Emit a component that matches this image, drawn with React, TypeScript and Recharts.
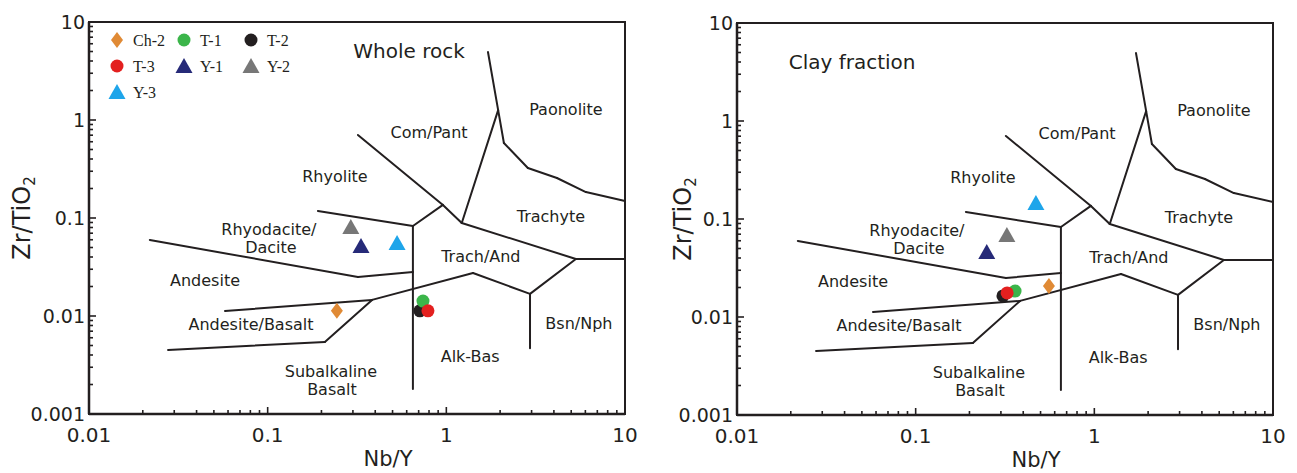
import React from 'react';
import {
  ScatterChart,
  Scatter,
  XAxis,
  YAxis,
  ReferenceLine,
  ReferenceDot,
  ReferenceArea,
  Legend,
} from 'recharts';

const SANS = '"DejaVu Sans", Arial, sans-serif';
const SERIF = '"Liberation Serif", "Times New Roman", serif';
const INK = '#231f20';

// ---- sample series ----
const sampleNames = ['Ch-2', 'T-1', 'T-2', 'T-3', 'Y-1', 'Y-2', 'Y-3'];
const sampleColors = ['#e08a35', '#3bb54a', '#231f20', '#e3201f', '#262a78', '#777777', '#1ea5ea'];
const sampleShapes = ['diamond', 'circle', 'circle', 'circle', 'triangle', 'triangle', 'triangle'];
const drawOrder = [0, 2, 1, 3, 4, 5, 6];

const wholeRockNbY = [0.244, 0.74, 0.711, 0.789, 0.333, 0.292, 0.53];
const wholeRockZrTi = [0.0113, 0.0142, 0.0113, 0.0113, 0.0518, 0.081, 0.0556];

const clayNbY = [0.557, 0.36, 0.308, 0.325, 0.25, 0.324, 0.471];
const clayZrTi = [0.0207, 0.0184, 0.0164, 0.0176, 0.046, 0.0687, 0.1456];

// ---- field boundaries (Nb/Y, Zr/TiO2) ----
const bComPantRhyolite = [[0.32, 0.703], [0.957, 0.136], [1.22, 0.0889]];
const bRhyoliteTrachAnd = [[0.957, 0.136], [0.65, 0.0828]];
const bRhyoliteRhyodacite = [[0.191, 0.118], [0.65, 0.0828]];
const bSubalkAlk = [[0.65, 0.0828], [0.65, 0.0018]];
const bTrachyteTrachAnd = [[1.22, 0.0889], [5.31, 0.0382], [10, 0.0382]];
const bComPantPaonolite = [[1.22, 0.0889], [1.95, 1.26], [1.71, 4.94]];
const bPaonoliteTrachyte = [[1.95, 1.26], [2.1, 0.582], [2.86, 0.324], [4.16, 0.256], [6.04, 0.184], [10, 0.149]];
const bDaciteAndesite = [[0.0219, 0.0597], [0.32, 0.025], [0.65, 0.0281]];
const bAndesiteBasalt = [[0.0577, 0.01125], [0.384, 0.0146], [1.41, 0.0275], [2.94, 0.0168], [5.31, 0.0382]];
const bAlkBsnNph = [[2.94, 0.0168], [2.94, 0.0047]];
const bSubalkBasalt = [[0.0277, 0.0045], [0.209, 0.00543], [0.384, 0.0146]];
const boundaries = [
  bComPantRhyolite, bRhyoliteTrachAnd, bRhyoliteRhyodacite, bSubalkAlk, bTrachyteTrachAnd,
  bComPantPaonolite, bPaonoliteTrachyte, bDaciteAndesite, bAndesiteBasalt, bAlkBsnNph, bSubalkBasalt,
];

// ---- field labels ----
const fieldNames = ['Paonolite', 'Com/Pant', 'Rhyolite', 'Trachyte', 'Rhyodacite/', 'Dacite', 'Andesite',
  'Andesite/Basalt', 'Subalkaline', 'Basalt', 'Trach/And', 'Bsn/Nph', 'Alk-Bas'];
const fieldNbY = [4.67, 0.8, 0.238, 3.85, 0.1016, 0.1043, 0.0446, 0.0807, 0.226, 0.229, 1.56, 5.52, 1.36];
const fieldZrTi = [1.29, 0.755, 0.268, 0.105, 0.0773, 0.0506, 0.0233, 0.00828, 0.00275, 0.0018, 0.0409, 0.00849, 0.00391];

// ---- axes ----
const xMajorVals = [0.01, 0.1, 1, 10];
const xMajorLabels = ['0.01', '0.1', '1', '10'];
const yMajorVals = [0.001, 0.01, 0.1, 1, 10];
const yMajorLabels = ['0.001', '0.01', '0.1', '1', '10'];
const minorSteps = [1, 2, 3, 4, 5, 6, 7, 8, 9];

const logTicks = (majors: number[]) => {
  const out: number[] = [];
  for (let i = 0; i < majors.length - 1; i++) {
    for (const k of minorSteps) out.push(+(majors[i] * k).toPrecision(3));
  }
  out.push(majors[majors.length - 1]);
  return out;
};
const xTicks = logTicks(xMajorVals);
const yTicks = logTicks(yMajorVals);

const findMajor = (vals: number[], v: number) => vals.findIndex((m) => Math.abs(m - v) / m < 1e-6);

const XTick = (props: any) => {
  const { x, y, payload } = props;
  const idx = findMajor(xMajorVals, payload.value);
  const len = idx >= 0 ? 7 : 4;
  return (
    <g>
      <line x1={x} x2={x} y1={y} y2={y - len} stroke={INK} strokeWidth={1.6} />
      {idx >= 0 && (
        <text x={x} y={y + 28} textAnchor="middle" fontSize={20} fontFamily={SANS} fill={INK}>
          {xMajorLabels[idx]}
        </text>
      )}
    </g>
  );
};

const YTick = (props: any) => {
  const { x, y, payload } = props;
  const idx = findMajor(yMajorVals, payload.value);
  const len = idx >= 0 ? 7 : 4;
  return (
    <g>
      <line x1={x} x2={x + len} y1={y} y2={y} stroke={INK} strokeWidth={1.6} />
      {idx >= 0 && (
        <text x={x - 4} y={y} dy="0.36em" textAnchor="end" fontSize={19} fontFamily={SANS} fill={INK}>
          {yMajorLabels[idx]}
        </text>
      )}
    </g>
  );
};

const markerShape = (kind: string, color: string, cx: number, cy: number) => {
  if (kind === 'circle') return <circle cx={cx} cy={cy} r={6.5} fill={color} />;
  if (kind === 'diamond')
    return <path d={`M${cx},${cy - 8}L${cx + 6},${cy}L${cx},${cy + 8}L${cx - 6},${cy}Z`} fill={color} />;
  return <path d={`M${cx},${cy - 8}L${cx + 8.5},${cy + 7}L${cx - 8.5},${cy + 7}Z`} fill={color} />;
};

const LegendBox = () => (
  <svg width={230} height={82}>
    {sampleNames.map((name, i) => {
      const col = i % 3;
      const row = Math.floor(i / 3);
      const cx = 12 + col * 67;
      const cy = 13 + row * 26;
      return (
        <g key={name}>
          {markerShape(sampleShapes[i], sampleColors[i], cx, cy)}
          <text x={cx + 16} y={cy + 5.5} fontSize={16} fontFamily={SERIF} fill={INK}>
            {name}
          </text>
        </g>
      );
    })}
  </svg>
);

type PanelProps = {
  title: string;
  titleX: number;
  titleY: number;
  nb: number[];
  zr: number[];
  showLegend: boolean;
  top: number;
  yTitleX: number;
};

const Panel = ({ title, titleX, titleY, nb, zr, showLegend, top, yTitleX }: PanelProps) => {
  const xAxisH = 473 - top - 392;
  return (
    <ScatterChart width={648} height={473} margin={{ top, right: 23, bottom: 0, left: 0 }}>
      <XAxis
        type="number"
        dataKey="x"
        scale="log"
        domain={[0.01, 10]}
        ticks={xTicks}
        interval={0}
        tickSize={0}
        tickMargin={0}
        tickLine={false}
        tick={<XTick />}
        height={xAxisH}
        allowDataOverflow
        axisLine={{ stroke: INK, strokeWidth: 2.5 }}
        label={(p: any) => {
          const vb = p.viewBox;
          return (
            <text x={vb.x + vb.width / 2 + 31} y={vb.y + 52} textAnchor="middle" fontSize={21} fontFamily={SANS} fill={INK}>
              Nb/Y
            </text>
          );
        }}
      />
      <YAxis
        type="number"
        dataKey="y"
        scale="log"
        domain={[0.001, 10]}
        ticks={yTicks}
        interval={0}
        tickSize={0}
        tickMargin={0}
        tickLine={false}
        tick={<YTick />}
        width={89}
        allowDataOverflow
        axisLine={{ stroke: INK, strokeWidth: 2.5 }}
        label={(p: any) => {
          const vb = p.viewBox;
          const cx = vb.x + yTitleX;
          const cy = vb.y + vb.height / 2;
          return (
            <text x={cx} y={cy} transform={`rotate(-90, ${cx}, ${cy})`} textAnchor="middle" fontSize={24} fontFamily={SANS} fill={INK}>
              <tspan>Zr/TiO</tspan>
              <tspan dy={5} fontSize={15}>2</tspan>
            </text>
          );
        }}
      />
      <ReferenceArea x1={0.01} x2={10} y1={0.001} y2={10} fill="none" stroke={INK} strokeWidth={2} ifOverflow="visible" />
      {boundaries.map((poly, pi) =>
        poly.slice(1).map((pt, si) => (
          <ReferenceLine
            key={`b${pi}-${si}`}
            segment={[
              { x: poly[si][0], y: poly[si][1] },
              { x: pt[0], y: pt[1] },
            ]}
            stroke={INK}
            strokeWidth={2}
            strokeLinecap="round"
            ifOverflow="visible"
          />
        ))
      )}
      {fieldNames.map((name, i) => (
        <ReferenceDot
          key={`f${i}`}
          x={fieldNbY[i]}
          y={fieldZrTi[i]}
          r={0}
          ifOverflow="visible"
          shape={(p: any) => (
            <text x={p.cx} y={p.cy} dy="0.36em" textAnchor="middle" fontSize={16} fontFamily={SANS} fill={INK}>
              {name}
            </text>
          )}
        />
      ))}
      <ReferenceDot
        x={titleX}
        y={titleY}
        r={0}
        ifOverflow="visible"
        shape={(p: any) => (
          <text x={p.cx} y={p.cy} dy="0.36em" textAnchor="middle" fontSize={20} fontFamily={SANS} fill={INK}>
            {title}
          </text>
        )}
      />
      {drawOrder.map((i) => (
        <Scatter
          key={sampleNames[i]}
          name={sampleNames[i]}
          data={[{ x: nb[i], y: zr[i] }]}
          fill={sampleColors[i]}
          isAnimationActive={false}
          shape={(p: any) => markerShape(sampleShapes[i], sampleColors[i], p.cx, p.cy)}
        />
      ))}
      {showLegend && (
        <Legend
          layout="horizontal"
          verticalAlign="middle"
          align="center"
          wrapperStyle={{ left: 105, top: 27, width: 230, height: 82 }}
          content={() => <LegendBox />}
        />
      )}
    </ScatterChart>
  );
};

export default function App() {
  return (
    <div style={{ position: 'absolute', left: 0, top: 0, width: 1297, height: 473, background: '#fff' }}>
      <div style={{ position: 'absolute', left: 0, top: 0 }}>
        <Panel title="Whole rock" titleX={0.618} titleY={5.12} nb={wholeRockNbY} zr={wholeRockZrTi} showLegend top={22} yTitleX={30} />
      </div>
      <div style={{ position: 'absolute', left: 648, top: 0 }}>
        <Panel title="Clay fraction" titleX={0.0441} titleY={4.0} nb={clayNbY} zr={clayZrTi} showLegend={false} top={23} yTitleX={43} />
      </div>
    </div>
  );
}
